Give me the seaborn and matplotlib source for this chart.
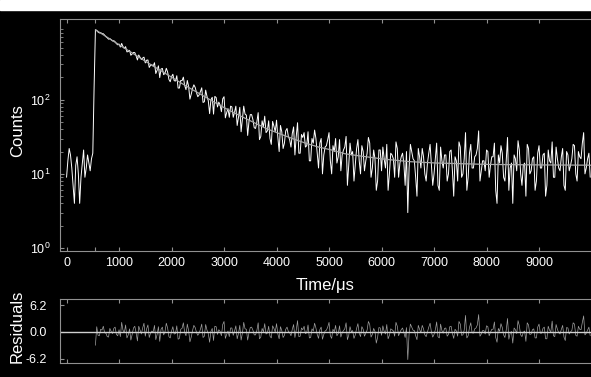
import numpy as np
import pandas as pd
import seaborn as sns
import matplotlib.pyplot as plt
from matplotlib.patches import Rectangle
from matplotlib.ticker import LogLocator, NullFormatter

# canais de tempo (us), bins de 25 us
tempo = np.arange(0, 10000, 25)

# contagens (20 por linha = 500 us)
contagens = [
    9, 15, 22, 18, 12, 7, 4, 13, 17, 10, 4, 9, 14, 21, 9, 12, 18, 14, 11, 16,
    19, 150, 880, 862, 819, 798, 805, 781, 778, 745, 709, 688, 657, 668, 647, 622, 627, 606, 572, 551,
    565, 514, 576, 521, 495, 521, 443, 447, 465, 399, 415, 435, 433, 392, 344, 402, 375, 349, 366, 376,
    314, 342, 344, 273, 292, 297, 285, 316, 226, 250, 287, 199, 260, 265, 218, 228, 266, 237, 188, 175,
    205, 221, 181, 179, 211, 144, 144, 182, 181, 202, 156, 137, 182, 152, 102, 119, 142, 159, 147, 125,
    110, 116, 129, 145, 92, 94, 135, 111, 97, 65, 100, 108, 64, 111, 107, 80, 93, 85, 69, 103,
    110, 57, 67, 76, 58, 82, 80, 58, 68, 82, 45, 58, 79, 37, 55, 82, 64, 62, 33, 51,
    63, 63, 54, 42, 41, 50, 67, 29, 32, 52, 43, 60, 36, 38, 52, 30, 25, 51, 44, 37,
    53, 31, 20, 45, 37, 22, 26, 38, 41, 32, 29, 23, 35, 43, 18, 32, 49, 19, 19, 34,
    31, 36, 23, 24, 37, 15, 15, 30, 26, 39, 30, 19, 12, 26, 30, 10, 18, 23, 24, 29,
    36, 15, 10, 24, 20, 30, 14, 17, 29, 11, 18, 21, 23, 32, 7, 13, 26, 18, 20, 8,
    13, 22, 29, 15, 10, 24, 20, 11, 15, 19, 31, 26, 9, 12, 21, 16, 6, 8, 21, 21,
    11, 23, 16, 12, 25, 6, 10, 19, 18, 16, 9, 27, 22, 9, 14, 17, 19, 14, 7, 20,
    3, 12, 25, 20, 16, 15, 9, 5, 22, 17, 12, 22, 17, 10, 8, 14, 19, 25, 13, 7,
    10, 16, 26, 7, 6, 23, 15, 12, 18, 18, 8, 10, 20, 21, 11, 5, 17, 15, 8, 27,
    23, 9, 10, 16, 36, 6, 9, 19, 25, 12, 12, 17, 18, 22, 38, 8, 11, 15, 15, 11,
    21, 20, 9, 13, 17, 17, 26, 6, 4, 18, 14, 24, 19, 9, 8, 15, 31, 6, 12, 14,
    4, 18, 16, 11, 28, 21, 10, 7, 13, 14, 5, 25, 22, 10, 11, 16, 17, 6, 8, 19,
    24, 12, 12, 18, 19, 5, 7, 21, 15, 14, 27, 9, 9, 23, 16, 12, 11, 17, 22, 7,
    6, 20, 18, 11, 13, 16, 25, 24, 10, 8, 20, 17, 16, 26, 36, 10, 12, 16, 19, 9,
]

# curva ajustada (cinza)
tempo_fit = [550, 800, 1050, 1300, 1550, 1800, 2050, 2300, 2550, 2800,
             3050, 3300, 3550, 3800, 4050, 4300, 4550, 4800, 5050, 5300,
             5550, 6050, 6550, 7050, 8050, 9050, 9990]
valores_fit = [880, 679, 525, 407, 315, 246, 192, 150, 119, 94,
               75, 61, 50, 41, 35, 30, 26, 23, 21, 18.7,
               17.6, 15.8, 14.6, 14.0, 13.4, 13.2, 13.1]

# residuos a partir do canal de 550 us
residuos = [
    -3.1, 1.2, -0.8, -0.9, 0.6, 0.4, 1.3, -0.2, -0.3, -1.1, -1.2, 0.8, 0.1, -0.4, 0.8, 1.1, -0.6, -0.9,
    0.5, -1.1, 2.2, 0.4, -0.2, 1.6, -1.4, -0.7, 0.7, -1.9, -0.6, 0.9, 1.3, -0.2, -2.1, 1.3, 0.4, -0.5, 0.9, 2.0,
    -1.0, 0.7, 1.6, -1.3, -0.3, 0.2, 0.0, 1.5, -1.8, -0.6, 1.2, -2.2, 0.6, 1.1, -0.7, 0.0, 2.0, 0.9, -1.1, -1.4,
    0.2, 1.2, -0.5, -0.4, 1.4, -1.7, -1.5, 0.6, 0.8, 2.1, -0.1, -0.9, 1.8, 0.3, -2.3, -1.2, 0.3, 1.5, 1.0, -0.1,
    -0.8, -0.3, 0.6, 1.8, -1.3, -1.0, 1.7, 0.4, -0.4, -2.4, 0.1, 0.8, -2.0, 1.3, 1.2, -0.6, 0.5, 0.1, -0.9, 1.7,
    2.4, -1.5, -0.6, 0.2, -1.1, 0.9, 0.9, -0.8, 0.2, 1.4, -1.6, -0.4, 1.5, -1.9, -0.3, 2.2, 0.7, 0.6, -1.9, -0.2,
    1.0, 1.1, 0.4, -0.7, -0.7, 0.3, 2.1, -1.6, -1.2, 0.8, 0.0, 1.9, -0.5, -0.3, 1.3, -1.0, -1.4, 1.4, 0.8, 0.0,
    1.9, -0.5, -1.6, 1.2, 0.3, -1.3, -0.8, 0.6, 1.1, 0.1, -0.2, -0.9, 0.6, 1.7, -1.3, 0.4, 2.6, -1.1, -1.0, 0.9,
    0.5, 1.3, -0.4, -0.2, 1.6, -1.4, -1.3, 0.7, 0.2, 2.0, 0.9, -0.6, -1.5, 0.5, 1.1, -1.7, -0.6, 0.2, 0.4, 1.1,
    2.2, -0.9, -1.5, 0.6, 0.0, 1.5, -0.9, -0.4, 1.4, -1.2, -0.2, 0.3, 0.7, 2.1, -1.8, -0.8, 1.2, 0.0, 0.3, -1.5,
    -0.7, 0.8, 1.9, -0.3, -1.1, 1.2, 0.6, -1.0, -0.3, 0.4, 2.4, 1.7, -1.2, -0.6, 0.8, 0.1, -2.6, -1.3, 1.0, 0.9,
    -0.8, 1.4, 0.1, -0.5, 1.7, -1.6, -0.8, 0.7, 0.5, 0.2, -1.0, 2.2, 1.3, -0.9, -0.1, 0.5, 0.9, -0.1, -1.3, 1.0,
    -6.4, -0.4, 1.8, 1.1, 0.4, 0.3, -0.9, -1.8, 1.5, 0.6, -0.2, 1.5, 0.7, -0.7, -1.1, 0.0, 1.1, 2.0, 0.0, -1.2,
    -0.6, 0.5, 2.3, -1.1, -1.4, 1.8, 0.3, -0.3, 0.8, 0.9, -1.0, -0.6, 1.2, 1.3, -0.4, -1.5, 0.6, 0.2, -1.0, 2.4,
    1.8, -0.8, -0.7, 0.4, 3.8, -1.4, -0.9, 1.0, 2.1, -0.2, -0.3, 0.7, 0.9, 1.6, 4.0, -1.0, -0.5, 0.3, 0.3, -0.5,
    1.4, 1.2, -0.9, -0.1, 0.6, 0.6, 2.3, -1.3, -2.4, 0.8, 0.1, 1.9, 1.0, -0.7, -1.3, 0.4, 3.1, -1.7, -0.3, 0.1,
    -2.6, 0.9, 0.5, -0.4, 2.6, 1.4, -0.7, -1.1, -0.1, 0.2, -2.2, 2.1, 1.6, -0.6, -0.5, 0.5, 0.7, -1.4, -1.4, 1.1,
    1.8, -0.3, -0.3, 0.8, 1.1, -1.6, -1.6, 1.3, 0.4, 0.0, 2.5, -0.9, -1.1, 1.7, 0.6, -0.2, -0.5, 0.6, 1.5, -1.2,
    -2.0, 1.0, 0.9, -0.5, 0.0, 0.3, 2.1, 1.8, -0.8, -1.0, 1.3, 0.6, 0.5, 2.2, 3.7, -0.7, -0.3, 0.4, 1.1, -0.9,
]

cor_eixo = '#909090'
sns.set_style('ticks', rc={
    'axes.facecolor': 'black',
    'figure.facecolor': 'black',
    'axes.edgecolor': cor_eixo,
    'axes.labelcolor': 'white',
    'text.color': 'white',
    'xtick.color': cor_eixo,
    'ytick.color': cor_eixo,
})
plt.rcParams['font.family'] = ['Liberation Sans', 'DejaVu Sans']

fig = plt.figure(figsize=(5.91, 3.77), dpi=100, facecolor='black')
ax = fig.add_axes([0.1015, 0.3342, 0.8985, 0.6154])
axr = fig.add_axes([0.1015, 0.0371, 0.8985, 0.1698])

df = pd.DataFrame({'Time': tempo, 'Counts': contagens})
sns.lineplot(data=df, x='Time', y='Counts', ax=ax, color='white', lw=0.7,
             estimator=None, sort=False)
sns.lineplot(x=tempo_fit, y=valores_fit, ax=ax, color='#a8a8a8', lw=0.9,
             estimator=None, sort=False)

ax.set_yscale('log')
ax.set_ylim(0.91, 1230)
ax.set_xlim(-125, 9990)
ax.set_xticks(range(0, 10000, 1000))
ax.set_xticks([540], minor=True)
ax.set_yticks([1, 10, 100])
ax.yaxis.set_minor_locator(LogLocator(base=10, subs=np.arange(2, 10)))
ax.yaxis.set_minor_formatter(NullFormatter())
ax.tick_params(axis='x', which='both', direction='in', top=True, bottom=True,
               length=3, width=0.8, labelcolor='white', labelsize=9, pad=4)
ax.tick_params(axis='y', which='major', direction='in', left=True, right=False,
               length=3, width=0.8, labelcolor='white', labelsize=9, pad=7)
ax.tick_params(axis='y', which='minor', direction='in', left=True, right=False,
               length=2, width=0.6)
ax.spines['right'].set_visible(False)
ax.set_xlabel('Time/μs', fontsize=12, labelpad=7)
ax.set_ylabel('Counts', fontsize=12)
ax.yaxis.set_label_coords(-0.066, 0.517)

sns.lineplot(x=tempo[22:], y=residuos, ax=axr, color='#a0a0a0', lw=0.5,
             estimator=None, sort=False)
axr.axhline(0, color='#d0d0d0', lw=1)
axr.set_xlim(-125, 9990)
axr.set_ylim(-7.2, 7.6)
axr.set_xticks(range(0, 10000, 1000))
axr.set_xticklabels([])
axr.set_yticks([-6.2, 0, 6.2])
axr.set_yticklabels(['-6.2', '0.0', '6.2'])
axr.tick_params(axis='x', direction='in', top=True, bottom=True, length=3, width=0.8)
axr.tick_params(axis='y', direction='in', left=True, right=False, length=3, width=0.8,
                labelcolor='white', labelsize=9, pad=9.5)
axr.spines['right'].set_visible(False)
axr.set_ylabel('Residuals', fontsize=12)
axr.yaxis.set_label_coords(-0.066, 0.567)

# faixa branca no topo
fig.patches.append(Rectangle((0, 1 - 10 / 377), 1, 10 / 377,
                             transform=fig.transFigure, color='white', zorder=0))

fig.savefig('out.png', dpi=100, facecolor='black')
